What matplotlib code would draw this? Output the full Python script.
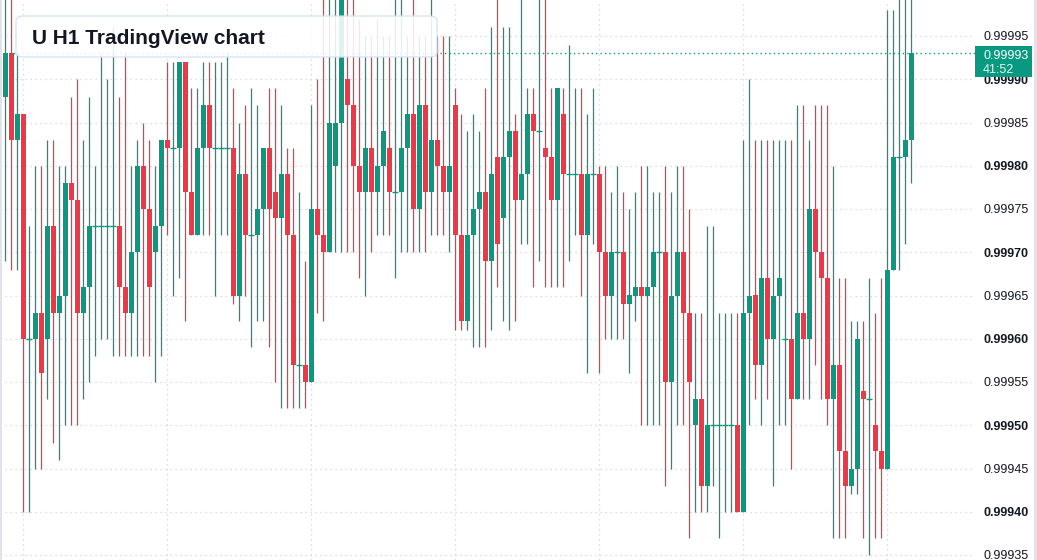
import matplotlib as mpl
mpl.use('Agg')
import matplotlib.pyplot as plt
from matplotlib.patches import FancyBboxPatch, Rectangle
import matplotlib.transforms as mtransforms
import numpy as np

plt.rcParams['font.family'] = ['Liberation Sans', 'DejaVu Sans']

# OHLC in units of 0.00001 (99993 -> 0.99993), one entry per H1 candle
opens = [99988, 99993, 99983, 99986, 99960, 99960, 99963, 99960, 99973, 99963,
         99965, 99978, 99976, 99963, 99966, 99973, 99973, 99973, 99973, 99973,
         99966, 99963, 99970, 99980, 99975, 99970, 99973, 99983, 99982, 99982,
         99992, 99977, 99972, 99982, 99987, 99982, 99982, 99982, 99982, 99965,
         99979, 99972, 99972, 99975, 99982, 99977, 99974, 99979, 99972, 99957,
         99957, 99955, 99975, 99972, 99970, 99980, 99985, 99990, 99987, 99980,
         99977, 99982, 99977, 99980, 99982, 99977, 99977, 99982, 99986, 99975,
         99987, 99977, 99983, 99980, 99977, 99987, 99972, 99962, 99972, 99975,
         99977, 99969, 99981, 99974, 99981, 99984, 99976, 99979, 99986, 99984,
         99982, 99981, 99976, 99986, 99979, 99979, 99979, 99972, 99979, 99979,
         99970, 99965, 99970, 99970, 99964, 99965, 99966, 99965, 99966, 99970,
         99970, 99955, 99965, 99970, 99963, 99950, 99953, 99943, 99950, 99950,
         99950, 99950, 99950, 99940, 99963, 99965, 99957, 99967, 99960, 99965,
         99960, 99960, 99953, 99963, 99960, 99975, 99970, 99967, 99953, 99957,
         99947, 99943, 99945, 99954, 99953, 99950, 99947, 99945, 99968, 99981,
         99981, 99983]
highs = [100001, 100001, 99993, 99986, 99973, 99980, 99980, 99983, 99983, 99980,
         99980, 99988, 99990, 99983, 99988, 99980, 99993, 99990, 99996, 99988,
         99993, 99980, 99983, 99985, 99983, 99980, 99983, 99992, 99992, 99992,
         99992, 99989, 99989, 99992, 99992, 99992, 99992, 99993, 99989, 99985,
         99987, 99989, 99987, 99982, 99989, 99989, 99987, 99982, 99982, 99977,
         99969, 99987, 99990, 100001, 100001, 100001, 100002, 100001, 100001, 99997,
         99995, 99995, 99997, 99995, 99995, 100001, 100001, 99995, 100001, 99995,
         99995, 100001, 99995, 99995, 99995, 99989, 99986, 99984, 99986, 99984,
         99989, 99996, 100001, 99996, 99996, 99986, 100001, 99989, 99989, 100001,
         100001, 99989, 99989, 99989, 99994, 99989, 99989, 99986, 99989, 99980,
         99980, 99977, 99980, 99977, 99975, 99977, 99980, 99980, 99977, 99977,
         99980, 99977, 99980, 99980, 99975, 99963, 99963, 99973, 99973, 99963,
         99963, 99963, 99963, 99983, 99990, 99983, 99983, 99983, 99983, 99983,
         99983, 99983, 99987, 99987, 99983, 99987, 99987, 99987, 99980, 99967,
         99967, 99962, 99962, 99962, 99967, 99963, 99967, 99998, 99998, 100001,
         100001, 100001]
lows = [99969, 99968, 99968, 99940, 99940, 99945, 99945, 99953, 99948, 99946,
        99950, 99950, 99950, 99953, 99955, 99958, 99960, 99960, 99958, 99958,
        99958, 99958, 99958, 99958, 99958, 99955, 99958, 99972, 99965, 99967,
        99962, 99972, 99972, 99972, 99972, 99965, 99972, 99972, 99964, 99962,
        99965, 99959, 99962, 99962, 99959, 99955, 99952, 99952, 99952, 99952,
        99952, 99955, 99963, 99962, 99970, 99970, 99970, 99970, 99970, 99967,
        99965, 99970, 99972, 99972, 99972, 99967, 99970, 99970, 99970, 99970,
        99970, 99972, 99972, 99972, 99970, 99961, 99961, 99961, 99959, 99959,
        99959, 99961, 99966, 99962, 99961, 99962, 99971, 99971, 99966, 99969,
        99966, 99966, 99966, 99966, 99969, 99972, 99965, 99956, 99971, 99956,
        99960, 99960, 99960, 99960, 99956, 99962, 99950, 99950, 99950, 99950,
        99943, 99945, 99950, 99950, 99937, 99940, 99940, 99940, 99943, 99937,
        99940, 99940, 99940, 99940, 99950, 99953, 99950, 99953, 99943, 99950,
        99950, 99945, 99953, 99953, 99953, 99957, 99953, 99950, 99937, 99937,
        99937, 99942, 99942, 99937, 99935, 99937, 99937, 99945, 99968, 99968,
        99971, 99978]
closes = [99993, 99983, 99986, 99960, 99960, 99963, 99956, 99973, 99963, 99965,
          99978, 99976, 99963, 99966, 99973, 99973, 99973, 99973, 99973, 99966,
          99963, 99970, 99980, 99975, 99966, 99973, 99983, 99982, 99982, 99992,
          99977, 99972, 99982, 99987, 99982, 99982, 99982, 99982, 99965, 99979,
          99972, 99972, 99975, 99982, 99975, 99974, 99979, 99972, 99957, 99957,
          99955, 99975, 99972, 99970, 99985, 99985, 100001, 99987, 99980, 99977,
          99982, 99977, 99980, 99984, 99977, 99977, 99982, 99986, 99975, 99987,
          99977, 99983, 99980, 99977, 99980, 99972, 99962, 99972, 99975, 99977,
          99969, 99979, 99971, 99981, 99984, 99976, 99979, 99986, 99984, 99984,
          99981, 99976, 99989, 99979, 99979, 99979, 99972, 99979, 99979, 99970,
          99965, 99970, 99970, 99964, 99965, 99966, 99965, 99966, 99970, 99970,
          99955, 99965, 99970, 99963, 99955, 99953, 99943, 99950, 99950, 99950,
          99950, 99950, 99940, 99963, 99965, 99957, 99967, 99960, 99965, 99967,
          99960, 99953, 99963, 99960, 99975, 99970, 99967, 99953, 99957, 99947,
          99943, 99945, 99960, 99953, 99953, 99947, 99945, 99968, 99981, 99981,
          99983, 99993]

price_ticks = [0.99935, 0.99940, 0.99945, 0.99950, 0.99955, 0.99960, 0.99965,
               0.99970, 0.99975, 0.99980, 0.99985, 0.99990, 0.99995]
day_starts = [3, 27, 51, 75, 99, 123, 147]
last_price = 0.99993
countdown = '41:52'
title = 'U H1 TradingView chart'

o = np.array(opens) / 1e5
h = np.array(highs) / 1e5
l = np.array(lows) / 1e5
c = np.array(closes) / 1e5
x = np.arange(len(o))

up_col = '#089981'
dn_col = '#f23645'
grid_col = '#cfd2d8'
txt_col = '#131722'

W, H = 1037, 560
fig = plt.figure(figsize=(W / 100, H / 100), dpi=100)
ax = fig.add_axes([0, 0, 975 / W, 1])

# plot scale: 43.25 px per 0.00005, first candle at px 5.3, 6 px per candle
ppx = 0.00005 / 43.25
ax.set_ylim(0.99995 - 524 * ppx, 0.99995 + 36 * ppx)
ax.set_xlim(-5.3 / 6, (975 - 5.3) / 6)

for t in price_ticks:
    ax.axhline(t, color=grid_col, lw=0.9, ls=(0, (1, 3)), zorder=0)
for d in day_starts:
    ax.axvline(d, color=grid_col, lw=0.9, ls=(0, (1, 3)), zorder=0)

up = c >= o
cols = np.where(up, up_col, dn_col)
ax.vlines(x, l, h, colors=cols, lw=0.9, zorder=2)
body_lo = np.minimum(o, c)
body_h = np.abs(c - o)
ax.bar(x, body_h, bottom=body_lo, width=0.82, color=cols, linewidth=0, zorder=3)
doji = body_h < 1e-7
ax.hlines(o[doji], x[doji] - 0.5, x[doji] + 0.5, colors=cols[doji], lw=1.0, zorder=3)

ax.axhline(last_price, color=up_col, lw=1.0, ls=(0, (1, 2.2)), zorder=4)

ax.set_xticks([])
ax.set_yticks([])
for s in ax.spines.values():
    s.set_visible(False)

# price scale labels (baseline a few px under the grid line)
down = mtransforms.ScaledTranslation(0, -4.4 / 100, fig.dpi_scale_trans)
for t in price_ticks:
    bold = round(t * 1e5) % 10 == 0
    ax.text(983 / 975, t, f'{t:.5f}', transform=ax.get_yaxis_transform() + down,
            fontsize=9, color=txt_col, fontweight='bold' if bold else 'normal',
            va='baseline', ha='left', clip_on=False)

# last price tag
fig.patches.append(Rectangle((975 / W, 1 - 77 / H), 57 / W, 31 / H,
                             transform=fig.transFigure, facecolor=up_col,
                             edgecolor='none', zorder=5))
fig.text(983 / W, 1 - 58.6 / H, f'{last_price:.5f}', color='white', fontsize=9,
         va='baseline', ha='left', zorder=6)
fig.text(983 / W, 1 - 72.6 / H, countdown, color='#e6f4f1', fontsize=9,
         va='baseline', ha='left', zorder=6)

# title box
fig.patches.append(FancyBboxPatch((16 / W, 1 - 57 / H), 421 / W, 41 / H,
                                  boxstyle='round,pad=0,rounding_size=0.008',
                                  transform=fig.transFigure, facecolor='white',
                                  alpha=0.88, edgecolor='#d3e1f5', lw=1.0, zorder=5))
fig.text(32 / W, 1 - 44.2 / H, title, color=txt_col, fontsize=15,
         fontweight='bold', va='baseline', ha='left', zorder=6)

# thin frame at the edges
fig.patches.append(Rectangle((0, 0), 2 / W, 1, transform=fig.transFigure,
                             facecolor='#e0e3eb', edgecolor='none'))
fig.patches.append(Rectangle((1 - 3 / W, 0), 3 / W, 1, transform=fig.transFigure,
                             facecolor='#e0e3eb', edgecolor='none'))

plt.savefig('out.png', dpi=100)
